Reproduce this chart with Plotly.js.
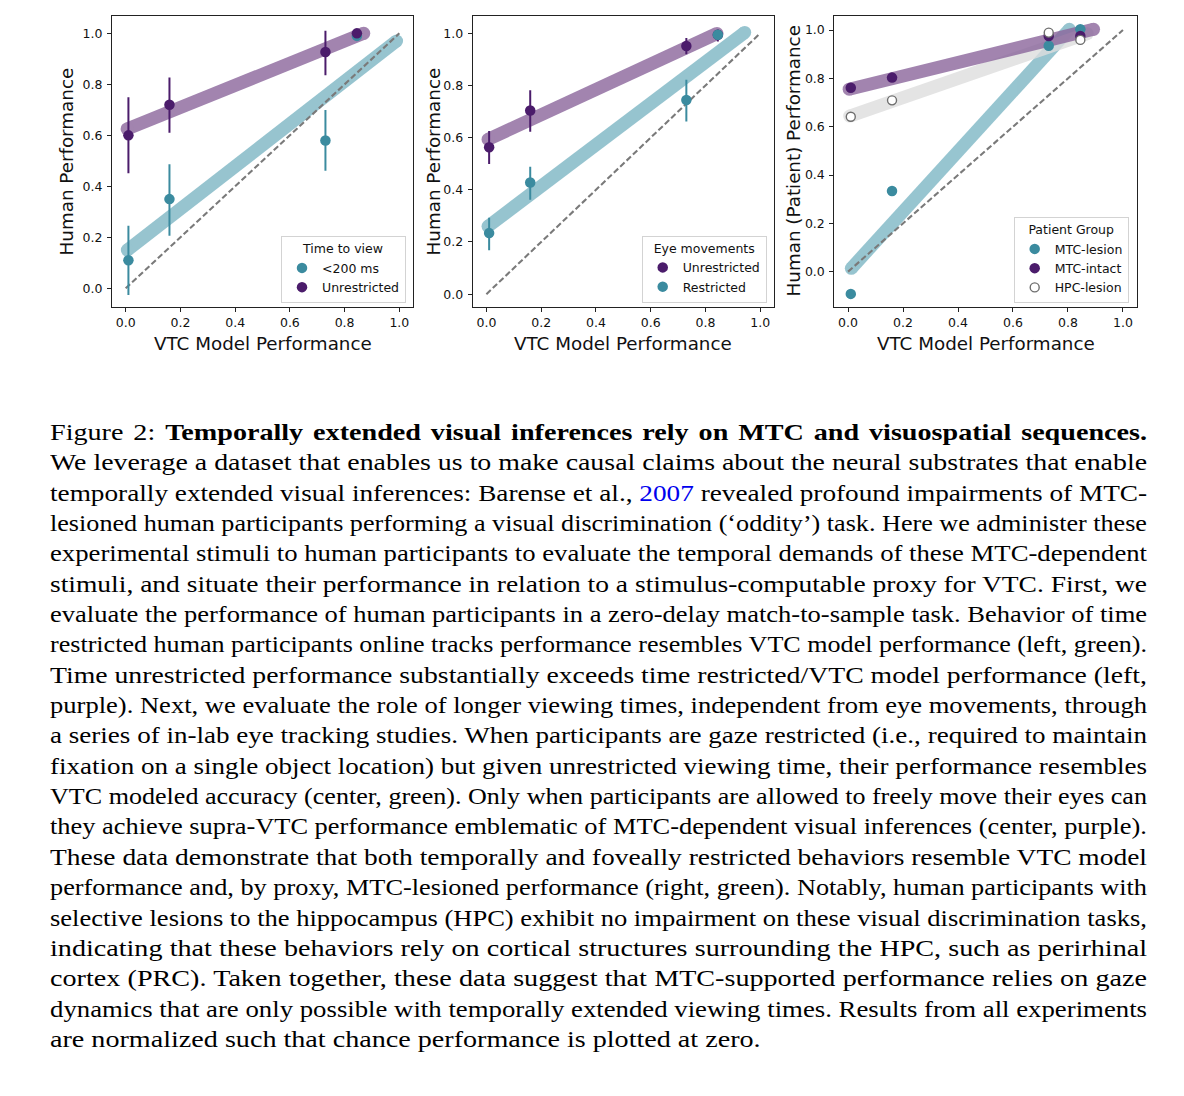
<!DOCTYPE html>
<html>
<head>
<meta charset="utf-8">
<script src="https://cdn.plot.ly/plotly-3.0.1.min.js"></script>
<style>
  html, body { margin: 0; padding: 0; background: #fff; }
  #chart { position: absolute; left: 0; top: 0; width: 1184px; height: 370px; }
  #caption { position: absolute; left: 50px; top: 418px; width: 1097px;
    font-family: 'Liberation Serif', 'DejaVu Serif', serif; font-size: 22.5px;
    line-height: 30.35px; color: #000; }
  #caption .l { white-space: nowrap; height: 30.35px; transform-origin: 0 0; }
  #caption a { color: #0000ee; text-decoration: none; }
</style>
</head>
<body>
<div id="chart"></div>
<div id="caption">
  <div class="l">Figure 2: <b>Temporally extended visual inferences rely on MTC and visuospatial sequences.</b></div>
  <div class="l">We leverage a dataset that enables us to make causal claims about the neural substrates that enable</div>
  <div class="l">temporally extended visual inferences: Barense et al., <a>2007</a> revealed profound impairments of MTC-</div>
  <div class="l">lesioned human participants performing a visual discrimination (‘oddity’) task. Here we administer these</div>
  <div class="l">experimental stimuli to human participants to evaluate the temporal demands of these MTC-dependent</div>
  <div class="l">stimuli, and situate their performance in relation to a stimulus-computable proxy for VTC. First, we</div>
  <div class="l">evaluate the performance of human participants in a zero-delay match-to-sample task. Behavior of time</div>
  <div class="l">restricted human participants online tracks performance resembles VTC model performance (left, green).</div>
  <div class="l">Time unrestricted performance substantially exceeds time restricted/VTC model performance (left,</div>
  <div class="l">purple). Next, we evaluate the role of longer viewing times, independent from eye movements, through</div>
  <div class="l">a series of in-lab eye tracking studies. When participants are gaze restricted (i.e., required to maintain</div>
  <div class="l">fixation on a single object location) but given unrestricted viewing time, their performance resembles</div>
  <div class="l">VTC modeled accuracy (center, green). Only when participants are allowed to freely move their eyes can</div>
  <div class="l">they achieve supra-VTC performance emblematic of MTC-dependent visual inferences (center, purple).</div>
  <div class="l">These data demonstrate that both temporally and foveally restricted behaviors resemble VTC model</div>
  <div class="l">performance and, by proxy, MTC-lesioned performance (right, green). Notably, human participants with</div>
  <div class="l">selective lesions to the hippocampus (HPC) exhibit no impairment on these visual discrimination tasks,</div>
  <div class="l">indicating that these behaviors rely on cortical structures surrounding the HPC, such as perirhinal</div>
  <div class="l">cortex (PRC). Taken together, these data suggest that MTC-supported performance relies on gaze</div>
  <div class="l">dynamics that are only possible with temporally extended viewing times. Results from all experiments</div>
  <div class="l last">are normalized such that chance performance is plotted at zero.</div>
</div>
<script>
// fit each caption line to the justified text width
(function () {
  const TARGET = 1097, MAXS = 1.25;
  document.querySelectorAll('#caption .l').forEach(function (el) {
    el.style.display = 'inline-block';
    const w = el.getBoundingClientRect().width;
    el.style.display = 'block';
    if (el.classList.contains('last')) {
      el.style.transform = 'scaleX(' + MAXS + ')';
      return;
    }
    const s = Math.min(MAXS, TARGET / w);
    const n = (el.textContent.trim().match(/ /g) || []).length;
    const extra = (TARGET / s - w) / Math.max(n, 1);
    el.style.wordSpacing = extra.toFixed(3) + 'px';
    el.style.transform = 'scaleX(' + s.toFixed(4) + ')';
  });
})();

// ---------------- data ----------------
const vtcX = [0.01, 0.16, 0.73, 0.845];          // VTC model performance per condition
const identityLine = [0, 1];                      // chance-normalised diagonal

// Panel 1: Time to view
const fast200Y  = [0.11, 0.35, 0.58, 0.99];
const fast200Hi = [0.245, 0.487, 0.699, 1.0];
const fast200Lo = [-0.026, 0.206, 0.461, 0.98];
const unres1Y   = [0.60, 0.72, 0.927, 1.0];
const unres1Hi  = [0.749, 0.827, 1.01, 1.01];
const unres1Lo  = [0.451, 0.61, 0.836, 0.99];
const fit1PurpleX = [0.005, 0.87],  fit1PurpleY = [0.625, 1.0];
const fit1TealX   = [0.006, 0.99],  fit1TealY   = [0.15, 0.97];

// Panel 2: Eye movements
const unres2Y  = [0.563, 0.704, 0.951, 0.994];
const unres2Hi = [0.625, 0.781, 0.982, 1.013];
const unres2Lo = [0.499, 0.622, 0.919, 0.968];
const restrY   = [0.234, 0.428, 0.744, 0.994];
const restrHi  = [0.293, 0.488, 0.822, 1.01];
const restrLo  = [0.168, 0.362, 0.662, 0.975];
const fit2PurpleX = [0.006, 0.842], fit2PurpleY = [0.593, 0.999];
const fit2TealX   = [0.006, 0.943], fit2TealY   = [0.26, 1.003];

// Panel 3: Patient group
const mtcLesionY = [-0.092, 0.334, 0.935, 1.003];
const mtcIntactY = [0.761, 0.803, 0.975, 0.975];
const hpcLesionY = [0.641, 0.709, 0.989, 0.959];
const fit3PurpleX = [0.004, 0.893], fit3PurpleY = [0.755, 1.003];
const fit3GrayX   = [0.006, 0.87],  fit3GrayY   = [0.644, 0.985];
const fit3TealX   = [0.012, 0.805], fit3TealY   = [0.014, 1.003];

const tickVals = [0, 0.2, 0.4, 0.6, 0.8, 1.0];

// ---------------- styles ----------------
const PURPLE = '#4b1c6b', TEAL = '#3b8b9f';
const PURPLE_BAND = '#8b669c', TEAL_BAND = '#7db6c4', GRAY_BAND = '#dedede';
const FONT = 'DejaVu Sans, sans-serif';
const BANDW = 13;
const TICKF = 12.5, TITLEF = 18.3;

function band(x, y, color, ax) {
  return { x: x, y: y, xaxis: 'x' + ax, yaxis: 'y' + ax, mode: 'lines+markers', type: 'scatter',
    line: { color: color, width: BANDW }, marker: { color: color, size: BANDW, line: { width: 0 } },
    opacity: 0.8, showlegend: false, hoverinfo: 'skip' };
}
function diag(ax) {
  return { x: identityLine, y: identityLine, xaxis: 'x' + ax, yaxis: 'y' + ax, mode: 'lines', type: 'scatter',
    line: { color: '#7a7a7a', width: 2.1, dash: '6px,2.8px' }, showlegend: false, hoverinfo: 'skip' };
}
function pts(y, hi, lo, color, name, ax, legend) {
  const t = { x: vtcX, y: y, xaxis: 'x' + ax, yaxis: 'y' + ax, mode: 'markers', type: 'scatter', name: name,
    marker: { color: color, size: 10.5, line: { width: 0 } }, legend: legend };
  if (hi) {
    t.error_y = { type: 'data', symmetric: false,
      array: hi.map((h, i) => h - y[i]), arrayminus: lo.map((l, i) => y[i] - l),
      color: color, thickness: 2, width: 0 };
  }
  return t;
}

const data = [
  band(fit1TealX, fit1TealY, TEAL_BAND, ''),
  band(fit1PurpleX, fit1PurpleY, PURPLE_BAND, ''),
  diag(''),
  pts(fast200Y, fast200Hi, fast200Lo, TEAL, '<200 ms', '', 'legend'),
  pts(unres1Y, unres1Hi, unres1Lo, PURPLE, 'Unrestricted', '', 'legend'),

  band(fit2TealX, fit2TealY, TEAL_BAND, '2'),
  band(fit2PurpleX, fit2PurpleY, PURPLE_BAND, '2'),
  diag('2'),
  pts(unres2Y, unres2Hi, unres2Lo, PURPLE, 'Unrestricted', '2', 'legend2'),
  pts(restrY, restrHi, restrLo, TEAL, 'Restricted', '2', 'legend2'),

  band(fit3TealX, fit3TealY, TEAL_BAND, '3'),
  band(fit3GrayX, fit3GrayY, GRAY_BAND, '3'),
  band(fit3PurpleX, fit3PurpleY, PURPLE_BAND, '3'),
  diag('3'),
  pts(mtcLesionY, null, null, TEAL, 'MTC-lesion', '3', 'legend3'),
  pts(mtcIntactY, null, null, PURPLE, 'MTC-intact', '3', 'legend3'),
];
const hpc = pts(hpcLesionY, null, null, '#ffffff', 'HPC-lesion', '3', 'legend3');
hpc.marker = { color: '#ffffff', size: 9, line: { color: '#6e6e6e', width: 1.4 } };
data.push(hpc);

const W = 1184, H = 370;
function xax(l, r, anchor) {
  return { domain: [l / W, r / W], range: [-0.05, 1.05], anchor: anchor, tickvals: tickVals, tickformat: '.1f',
    showline: true, mirror: true, linecolor: '#222', linewidth: 1, ticks: 'outside', ticklen: 4, tickwidth: 1,
    tickcolor: '#222', showgrid: false, zeroline: false, tickfont: { family: FONT, size: TICKF, color: '#111' },
    automargin: false, fixedrange: true };
}
function yax(rng, anchor) {
  return { domain: [1 - 306.7 / H, 1 - 16 / H], range: rng, anchor: anchor, tickvals: tickVals, tickformat: '.1f',
    showline: true, mirror: true, linecolor: '#222', linewidth: 1, ticks: 'outside', ticklen: 4, tickwidth: 1,
    tickcolor: '#222', showgrid: false, zeroline: false, tickfont: { family: FONT, size: TICKF, color: '#111' },
    ticklabelstandoff: 2, automargin: false, fixedrange: true };
}
function leg(right, bottom, title) {
  return { x: right / W, y: 1 - bottom / H, xanchor: 'right', yanchor: 'bottom', xref: 'paper', yref: 'paper',
    bgcolor: 'rgba(255,255,255,0.85)', bordercolor: '#d3d3d3', borderwidth: 1,
    font: { family: FONT, size: TICKF, color: '#111' }, itemsizing: 'trace', tracegroupgap: 0,
    title: { text: title, side: 'top center', font: { family: FONT, size: TICKF, color: '#111' } } };
}

const xTitleY = 1 - 343 / H;
function xt(cx) {
  return { text: 'VTC Model Performance', x: cx / W, y: xTitleY, xref: 'paper', yref: 'paper',
    xanchor: 'center', yanchor: 'middle', showarrow: false, font: { family: FONT, size: TITLEF, color: '#111' } };
}
function yt(cx, txt) {
  return { text: txt, x: cx / W, y: 1 - 161.4 / H, xref: 'paper', yref: 'paper', textangle: -90,
    xanchor: 'center', yanchor: 'middle', showarrow: false, font: { family: FONT, size: TITLEF, color: '#111' } };
}

const layout = {
  width: W, height: H, margin: { l: 0, r: 0, t: 0, b: 0 },
  paper_bgcolor: '#fff', plot_bgcolor: '#fff', showlegend: true,
  xaxis: xax(112, 413, 'y'), yaxis: yax([-0.072, 1.068], 'x'),
  xaxis2: xax(472.7, 774, 'y2'), yaxis2: yax([-0.048, 1.066], 'x2'),
  xaxis3: xax(834.3, 1136.7, 'y3'), yaxis3: yax([-0.145, 1.058], 'x3'),
  legend: leg(406, 303, 'Time to view'),
  legend2: leg(766.7, 302.5, 'Eye movements'),
  legend3: leg(1128.7, 303, 'Patient Group'),
  annotations: [
    xt((112 + 413) / 2), xt((472.7 + 774) / 2), xt((834.3 + 1136.7) / 2),
    yt(66, 'Human Performance'), yt(433, 'Human Performance'), yt(793, 'Human (Patient) Performance')
  ]
};
Plotly.newPlot('chart', data, layout, { displayModeBar: false, staticPlot: true });
</script>
</body>
</html>
